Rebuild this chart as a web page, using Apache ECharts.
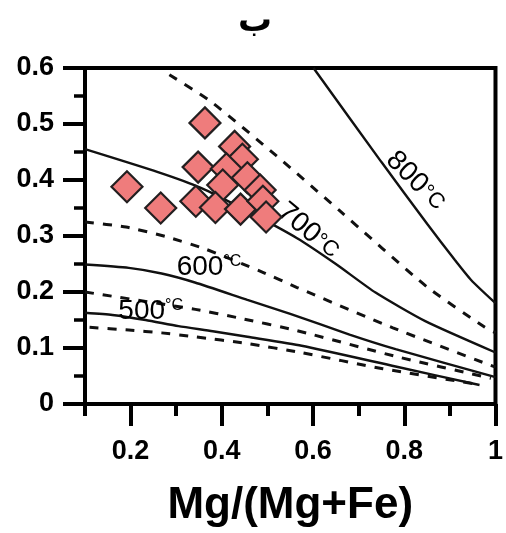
<!DOCTYPE html>
<html><head><meta charset="utf-8">
<script src="https://cdn.jsdelivr.net/npm/echarts@6/dist/echarts.min.js"></script>
<style>html,body{margin:0;padding:0;background:#fff}#c{width:506px;height:533px}</style>
</head><body><div id="c"></div>
<script>
const titleText = 'ب';
const xAxisName = 'Mg/(Mg+Fe)';
const xMajorTicks = [0.2, 0.4, 0.6, 0.8, 1.0];
const xMinorTicks = [0.1, 0.3, 0.5, 0.7, 0.9];

// samples (diamonds)
const sampleX = [0.192, 0.266, 0.363, 0.428, 0.445, 0.348, 0.410, 0.402, 0.456, 0.484, 0.343, 0.386, 0.441, 0.490, 0.497];
const sampleY = [0.388, 0.350, 0.502, 0.460, 0.437, 0.423, 0.420, 0.391, 0.404, 0.382, 0.362, 0.351, 0.348, 0.362, 0.334];

// isotherms (solid) and their bounds (dashed)
const iso800 = [[0.601,0.6],[0.75,0.432],[0.85,0.322],[0.911,0.257],[0.947,0.221],[1.0,0.18]];
const iso700Upper = [[0.285,0.588],[0.376,0.540],[0.52,0.443],[0.657,0.346],[0.85,0.209],[0.976,0.1375],[1.0,0.127]];
const iso700 = [[0.1,0.455],[0.26,0.414],[0.354,0.386],[0.45,0.347],[0.565,0.296],[0.65,0.25],[0.737,0.199],[0.846,0.148],[1.0,0.092]];
const iso700Lower = [[0.1,0.325],[0.19,0.316],[0.277,0.299],[0.363,0.277],[0.485,0.237],[0.565,0.208],[0.775,0.136],[0.986,0.07],[1.0,0.066]];
const iso600 = [[0.1,0.249],[0.196,0.243],[0.268,0.233],[0.341,0.217],[0.456,0.186],[0.55,0.161],[0.68,0.124],[0.781,0.098],[1.0,0.048]];
const iso600Lower = [[0.1,0.2],[0.342,0.169],[0.435,0.154],[0.565,0.131],[0.781,0.085],[0.99,0.046]];
const iso500 = [[0.1,0.163],[0.16,0.159],[0.233,0.15],[0.305,0.139],[0.38,0.13],[0.456,0.12],[0.575,0.104],[0.781,0.067],[0.965,0.034]];
const iso500Lower = [[0.11,0.137],[0.196,0.132],[0.268,0.127],[0.341,0.12],[0.456,0.108],[0.572,0.092],[0.753,0.063],[0.954,0.036]];

const isoNames = ['800', '700', '600', '500'];

const FONT = '"Liberation Sans", Arial, sans-serif';
const solidStyle = {color: '#111', width: 2.4};
const dashStyle = {color: '#111', width: 3, type: [9, 9]};

function lineSeries(data, style, mark) {
  const s = {
    type: 'line', data: data, showSymbol: false, symbol: 'none',
    smooth: 0.2, lineStyle: style, silent: true, z: 2
  };
  if (mark) {
    s.markPoint = {
      symbol: 'rect', symbolSize: 1, itemStyle: {color: 'rgba(0,0,0,0)'}, silent: true,
      data: [{coord: mark.coord, label: {
        show: true, position: 'inside', rotate: mark.rotate, color: '#000',
        formatter: mark.text, fontFamily: FONT,
        rich: mark.rich
      }}]
    };
  }
  return s;
}

const bigRich = {
  n: {fontSize: 28, fontFamily: FONT, color: '#000'},
  s: {fontSize: 22, fontFamily: FONT, color: '#000'}
};
const smallRich = {
  n: {fontSize: 28, fontFamily: FONT, color: '#000'},
  t: {fontSize: 16, fontFamily: FONT, color: '#000', verticalAlign: 'top', padding: [0, 0, 10, 0]}
};

const chart = echarts.init(document.getElementById('c'), null, {renderer: 'canvas'});
chart.setOption({
  animation: false,
  backgroundColor: '#fff',
  title: {
    text: titleText, left: 250, top: 0, textAlign: 'center',
    textStyle: {fontFamily: '"DejaVu Sans", sans-serif', fontWeight: 'bold', fontSize: 34, color: '#000'}
  },
  grid: {left: 85, right: 6, top: 68, bottom: 129, show: true, borderColor: '#000', borderWidth: 4, backgroundColor: 'transparent'},
  xAxis: [{
    type: 'value', min: 0.1, max: 1, position: 'bottom',
    axisLine: {show: true, onZero: false, lineStyle: {color: '#000', width: 3.5}},
    axisTick: {show: true, length: 22, customValues: xMajorTicks, lineStyle: {color: '#000', width: 4}},
    axisLabel: {customValues: xMajorTicks, fontSize: 27, fontWeight: 'bold', color: '#000', margin: 34, fontFamily: FONT},
    splitLine: {show: false},
    name: xAxisName, nameLocation: 'middle', nameGap: 80,
    nameTextStyle: {fontSize: 44, fontWeight: 'bold', color: '#000', fontFamily: FONT}
  }, {
    type: 'value', min: 0.1, max: 1, position: 'bottom', offset: 0,
    axisLine: {show: false},
    axisTick: {show: true, length: 12, customValues: xMinorTicks, lineStyle: {color: '#000', width: 4}},
    axisLabel: {show: false},
    splitLine: {show: false}
  }],
  yAxis: {
    type: 'value', min: 0, max: 0.6, interval: 0.1,
    axisLine: {show: true, onZero: false, lineStyle: {color: '#000', width: 3.5}},
    axisTick: {show: true, length: 22, lineStyle: {color: '#000', width: 4}},
    minorTick: {show: true, splitNumber: 2, length: 11, lineStyle: {color: '#000', width: 3.5}},
    splitLine: {show: false}, minorSplitLine: {show: false},
    axisLabel: {fontSize: 27, fontWeight: 'bold', color: '#000', margin: 31, fontFamily: FONT}
  },
  series: [
    lineSeries(iso800, solidStyle, {coord: [0.825, 0.398], rotate: -45, text: '{n|' + isoNames[0] + '}{s|°C}', rich: bigRich}),
    lineSeries(iso700Upper, dashStyle),
    lineSeries(iso700, solidStyle, {coord: [0.59, 0.309], rotate: -40, text: '{n|' + isoNames[1] + '}{s|°C}', rich: bigRich}),
    lineSeries(iso700Lower, dashStyle),
    lineSeries(iso600, solidStyle, {coord: [0.372, 0.244], rotate: 0, text: '{n|' + isoNames[2] + '}{t|°C}', rich: smallRich}),
    lineSeries(iso600Lower, dashStyle),
    lineSeries(iso500, solidStyle, {coord: [0.244, 0.165], rotate: 0, text: '{n|' + isoNames[3] + '}{t|°C}', rich: smallRich}),
    lineSeries(iso500Lower, dashStyle),
    {
      type: 'scatter', z: 5,
      data: sampleX.map((x, i) => [x, sampleY[i]]),
      symbol: 'diamond', symbolSize: 31,
      itemStyle: {color: '#EF7C7C', borderColor: '#231F20', borderWidth: 2.2, opacity: 1}
    }
  ]
});
</script>
</body></html>
